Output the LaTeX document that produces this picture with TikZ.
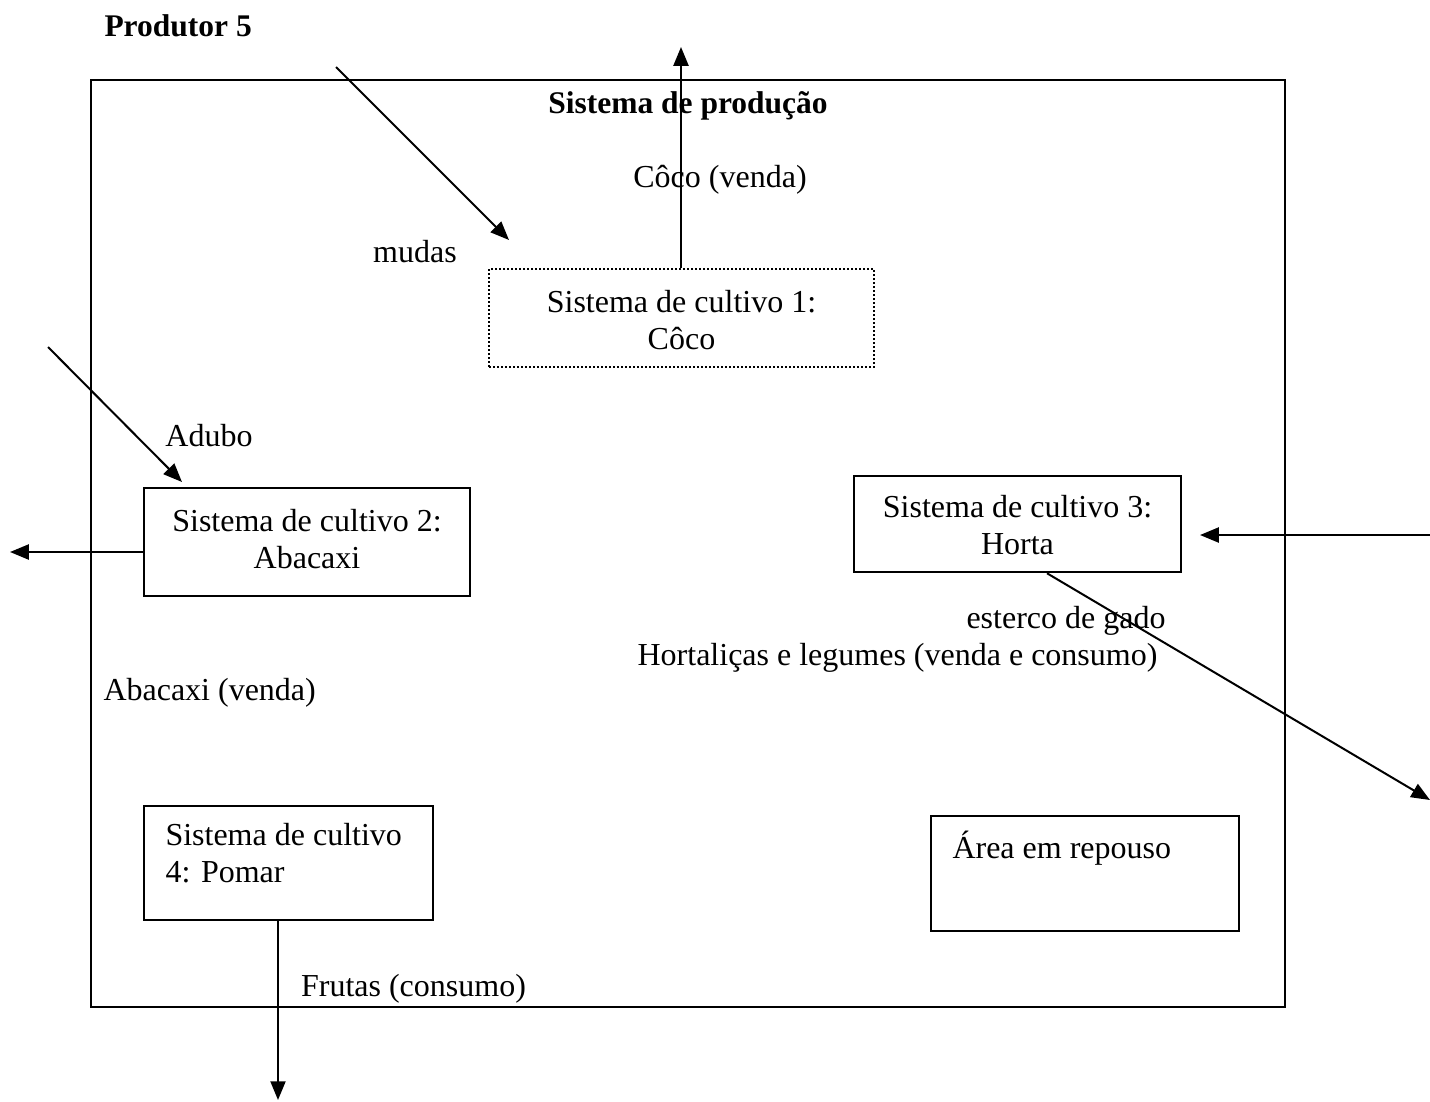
\documentclass[tikz,border=0pt]{standalone}
\usepackage{fontspec}
\setmainfont{Liberation Serif}
\usetikzlibrary{arrows.meta,calc}
\begin{document}
\begin{tikzpicture}[x=0.4pt,y=-0.4pt,
  txt/.style={font=\fontsize{12.8pt}{14.6pt}\selectfont, inner sep=0pt},
  btxt/.style={font=\fontsize{12.6pt}{14.4pt}\selectfont\bfseries, inner sep=0pt},
  cbox/.style={draw, line width=1pt, inner sep=0pt, align=center,
     font=\fontsize{12.8pt}{14.6pt}\selectfont},
  dotbox/.style={cbox, line width=0.8pt, dash pattern=on 0.8pt off 0.8pt},
  arr/.style={line width=0.8pt, -{Triangle[length=7.5pt,width=6pt]}},
  frame/.style={draw, line width=1.1pt, inner sep=0pt}
]
\useasboundingbox (0,0) rectangle (1430,1101);
% outer frame
\node[frame, minimum width=1194*0.4pt, minimum height=927*0.4pt] (sys) at (688,543.5) {};
% titles
\node[btxt, anchor=west] (prod) at (104,26) {Produtor 5};
\node[btxt] (sp) at (688,106) {Sistema de produção};
% boxes
\node[dotbox, minimum width=385*0.4pt, minimum height=98*0.4pt] (c1) at (681.5,318) {};
\node[txt, align=center] (c1t) at (681.5,320) {Sistema de cultivo 1:\\Côco};
\node[cbox, minimum width=326*0.4pt, minimum height=108*0.4pt] (c2) at (307,542) {};
\node[txt, align=center] (c2t) at (307,539) {Sistema de cultivo 2:\\Abacaxi};
\node[cbox, minimum width=327*0.4pt, minimum height=96*0.4pt] (c3) at (1017.5,524) {};
\node[txt, align=center] (c3t) at (1017.5,525) {Sistema de cultivo 3:\\Horta};
\node[cbox, minimum width=289*0.4pt, minimum height=114*0.4pt] (c4) at (288.5,863) {};
\node[font=\fontsize{12.8pt}{14.8pt}\selectfont, inner sep=0pt, anchor=north west, align=left] (c4t) at (165,823) {Sistema de cultivo\\4: Pomar};
\node[cbox, minimum width=308*0.4pt, minimum height=115*0.4pt] (area) at (1085,873.5) {};
\node[txt, anchor=west] (areat) at (952,848) {Área em repouso};
% labels
\node[txt] (lcoco) at (720,180) {Côco (venda)};
\node[txt] (lmudas) at (415,252) {mudas};
\node[txt] (ladubo) at (209,436) {Adubo};
\node[txt, anchor=west] (labac) at (103,693) {Abacaxi (venda)};
\node[txt] (lesterco) at (1066,621) {esterco de gado};
\node[txt] (lhort) at (897.5,658) {Hortaliças e legumes (venda e consumo)};
\node[txt] (lfrutas) at (413.5,989) {Frutas (consumo)};
% coordinates
\coordinate (cocoout) at (681,47);
\coordinate (mudasin) at (336,67);
\coordinate (mudastip) at (509,240);
\coordinate (aduboin) at (48,347);
\coordinate (adubotip) at (182,482);
\coordinate (abacout) at (10,552);
\coordinate (estin) at (1430,535);
\coordinate (esttip) at (1200,535);
\coordinate (hortstart) at (1047,572);
\coordinate (hortout) at (1430,800);
\coordinate (frutout) at (278,1100);
% connectors
\draw[arr] (c1.north -| cocoout) -- (cocoout);
\draw[arr] (mudasin) -- (mudastip);
\draw[arr] (aduboin) -- (adubotip);
\draw[arr] (c2.west |- abacout) -- (abacout);
\draw[arr] (estin) -- (esttip);
\draw[arr] (c3.south -| hortstart) -- (hortout);
\draw[arr] (c4.south -| frutout) -- (frutout);
\end{tikzpicture}
\end{document}
